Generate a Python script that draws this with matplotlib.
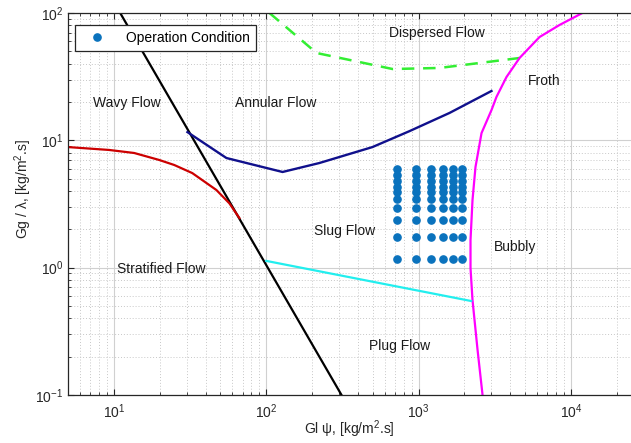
import numpy as np
import matplotlib
matplotlib.use("Agg")
from matplotlib import pyplot as plt

plt.rcParams['font.family'] = ['Liberation Sans', 'DejaVu Sans']
plt.rcParams['mathtext.fontset'] = 'cm'
plt.rcParams['mathtext.default'] = 'regular'

# boundary lines of the flow pattern map
black_x = [11.0, 312]
black_y = [100, 0.1]

red_x = [5, 9.3, 13.6, 19.9, 24.9, 32.7, 47.1, 57.3, 66.7]
red_y = [8.85, 8.4, 7.95, 7.0, 6.4, 5.53, 4.07, 3.2, 2.45]

blue_x = [30.4, 54.8, 128, 223, 498, 871, 1596, 3010]
blue_y = [11.6, 7.26, 5.64, 6.63, 8.85, 11.8, 16.4, 24.4]

green_x = [105, 214, 675, 1370, 4600]
green_y = [100, 48.5, 36.3, 37, 44.3]

magenta_x = [11900, 8420, 6220, 4600, 3776, 3245, 3012, 2590, 2364, 2260,
             2193, 2193, 2260, 2440, 2630]
magenta_y = [100, 80.5, 64.7, 44.3, 31.4, 21.9, 17.3, 11.4, 6.17, 3.4,
             1.65, 0.99, 0.556, 0.225, 0.1]

cyan_x = [100, 2213]
cyan_y = [1.13, 0.547]

# operating points
op_gl = [720, 960, 1200, 1440, 1680, 1920]
op_gg = [1.17, 1.73, 2.37, 2.92, 3.44, 3.95, 4.32, 4.82, 5.34, 5.91]

regions = ['Wavy Flow', 'Annular Flow', 'Dispersed Flow', 'Froth',
           'Slug Flow', 'Bubbly', 'Stratified Flow', 'Plug Flow']
region_x = [12.1, 115, 1313, 6710, 326, 4330, 20.5, 750]
region_y = [19.6, 19.6, 69.7, 29.3, 1.94, 1.45, 0.975, 0.242]

fig = plt.figure(figsize=(6.31, 4.43), dpi=100)
ax = fig.add_axes([0.1078, 0.1084, 0.8922, 0.8623])

ax.plot(black_x, black_y, color='black', lw=1.6)
ax.plot(red_x, red_y, color='#cc0000', lw=1.6)
ax.plot(blue_x, blue_y, color='#10108c', lw=1.7)
ax.plot(green_x, green_y, color='#33ee33', lw=1.8, linestyle=(0, (5, 3.5)))
ax.plot(magenta_x, magenta_y, color='#ff00ff', lw=1.6)
ax.plot(cyan_x, cyan_y, color='#22eeee', lw=1.6)

gx, gy = np.meshgrid(op_gl, op_gg)
ax.plot(gx.ravel(), gy.ravel(), linestyle='none', marker='o', ms=5.2,
        color='#0a72bd', label='Operation Condition')

for name, x, y in zip(regions, region_x, region_y):
    ax.text(x, y, name, ha='center', va='center', fontsize=10, color='#1a1a1a')

ax.set_xscale('log')
ax.set_yscale('log')
ax.set_xlim(5, 2.48e4)
ax.set_ylim(0.1, 100)

ax.grid(True, which='major', color='#d0d0d0', lw=0.8, linestyle='-')
ax.grid(True, which='minor', color='#c8c8c8', lw=0.7, linestyle=(0, (1, 2)))
ax.set_axisbelow(True)

ax.tick_params(which='both', direction='in', top=True, right=False,
               colors='#262626', labelsize=10, labelcolor='#262626')
ax.tick_params(which='major', length=4)
ax.tick_params(which='minor', length=2.5)
ax.tick_params(axis='x', pad=5)
for side in ['left', 'bottom', 'top']:
    ax.spines[side].set_color('#262626')
    ax.spines[side].set_linewidth(0.9)
ax.spines['right'].set_visible(False)

ax.set_xlabel(r'Gl $\psi$, [kg/m$^2$.s]', fontsize=10, color='#262626')
ax.set_ylabel(r'Gg / $\lambda$, [kg/m$^2$.s]', fontsize=10, color='#262626')
ax.xaxis.set_label_coords(0.5, -0.061)
ax.yaxis.set_label_coords(-0.060, 0.539)

leg = ax.legend(loc='upper left', bbox_to_anchor=(0.0124, 0.9686), borderaxespad=0,
                fancybox=False, edgecolor='#262626', fontsize=10, handletextpad=1.0,
                borderpad=0.45, handlelength=2.2, framealpha=1)
leg.get_frame().set_linewidth(0.9)

fig.savefig('out.png', dpi=100)
